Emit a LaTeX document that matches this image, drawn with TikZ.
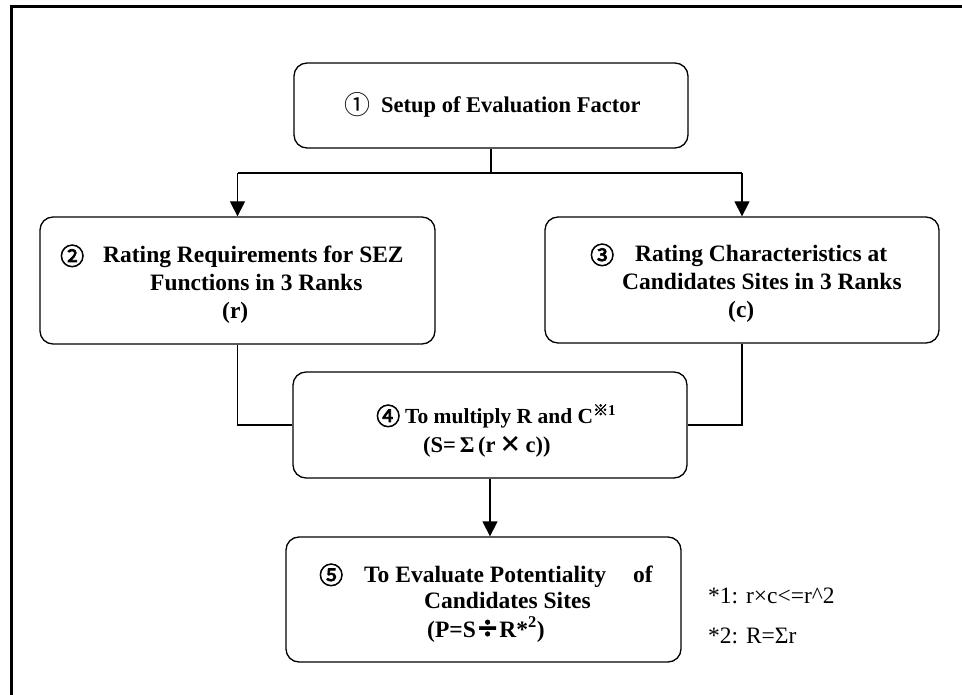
\documentclass[tikz,border=0pt]{standalone}
\usepackage{fontspec}
\setmainfont{Liberation Serif}
\newfontfamily\cjk{Noto Sans CJK JP}
\newfontfamily\cjkb{Noto Sans CJK JP}[FakeBold=3]
\usetikzlibrary{arrows.meta}
\tikzset{
  flowbox/.style={draw,line width=1.3pt,rounded corners=13pt,inner sep=0pt},
  ln/.style={anchor=base west,inner sep=0pt,font=\fontsize{23.5}{27}\selectfont\bfseries},
  lnsmall/.style={ln,font=\fontsize{21.5}{25}\selectfont\bfseries},
  num/.style={anchor=base west,inner sep=0pt,font=\fontsize{24}{26}\selectfont\cjkb},
  numthin/.style={anchor=base west,inner sep=0pt,font=\fontsize{26}{28}\selectfont\cjk},
  note/.style={anchor=base west,font=\fontsize{23.5}{26}\selectfont,inner sep=0pt},
  conn/.style={line width=1.3pt},
  arr/.style={conn,-{Triangle[length=15pt,width=15pt]}},
}
\begin{document}
\begin{tikzpicture}[x=1pt,y=-1pt]
\useasboundingbox (0,0) rectangle (962,695);
\draw[line width=3pt] (11,695) -- (11,7) -- (962,7);

\node[flowbox,minimum width=394pt,minimum height=85pt] (b1) at (491,105.5) {};
\node[flowbox,minimum width=395pt,minimum height=127pt] (b2) at (237.5,280.5) {};
\node[flowbox,minimum width=394pt,minimum height=126pt] (b3) at (742,280) {};
\node[flowbox,minimum width=394pt,minimum height=106pt] (b4) at (490,425) {};
\node[flowbox,minimum width=395pt,minimum height=125pt] (b5) at (483.5,599.5) {};

% box 1
\node[numthin] (c1) at (344,115) {①};
\node[ln,font=\fontsize{22.5}{26}\selectfont\bfseries] (t1) at (381,113) {Setup of Evaluation Factor};
% box 2
\node[num] (c2) at (60,265) {②};
\node[ln] (t2a) at (103,263) {Rating Requirements for SEZ};
\node[ln] (t2b) at (150,291) {Functions in 3 Ranks};
\node[ln] (t2c) at (222,319) {(r)};
% box 3
\node[num] (c3) at (590,264) {③};
\node[ln] (t3a) at (635,262) {Rating Characteristics at};
\node[ln] (t3b) at (622,290) {Candidates Sites in 3 Ranks};
\node[ln] (t3c) at (728,318) {(c)};
% box 4
\node[num] (c4) at (376,425) {④};
\node[lnsmall] (t4a) at (405,423) {To multiply R and C\textsuperscript{{\cjkb ※}1}};
\node[ln,font=\fontsize{22.5}{26}\selectfont\bfseries] (t4b) at (423,452) {(S=\,Σ\,(r\,{\cjk ×}\,c))};
% box 5
\node[num] (c5) at (319,584) {⑤};
\node[ln] (t5a) at (364,582) {To Evaluate Potentiality};
\node[ln] (t5d) at (633,582) {of};
\node[ln] (t5b) at (424,608) {Candidates Sites};
\node[ln] (t5c) at (427,637) {(P=S{\cjkb ÷}R*\textsuperscript{2})};

\node[note] (n1) at (708,603) {*1: r×c<=r\textasciicircum2};
\node[note] (n2) at (708,643) {*2: R=Σr};

\coordinate (split) at (b1.south |- 0,173);
\draw[conn] (b1.south) -- (split);
\draw[conn] (b2.north |- split) -- (b3.north |- split);
\draw[arr] (b2.north |- split) -- (b2.north);
\draw[arr] (b3.north |- split) -- (b3.north);
\draw[conn] (b2.south) |- (b4.west);
\draw[conn] (b3.south) |- (b4.east);
\draw[arr] (b4.south) -- (b4.south |- b5.north);
\end{tikzpicture}
\end{document}
